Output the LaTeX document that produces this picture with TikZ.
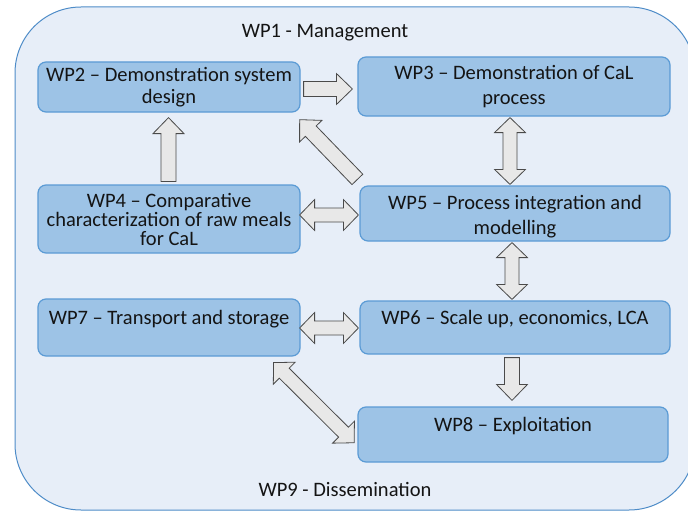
\documentclass[tikz,border=0pt]{standalone}
\usepackage{fontspec}
\setmainfont{Carlito}
\usetikzlibrary{calc}
\definecolor{outerfill}{HTML}{E7EEF8}
\definecolor{outerline}{HTML}{4E8CC8}
\definecolor{boxfill}{HTML}{9DC3E6}
\definecolor{boxline}{HTML}{5B9BD5}
\definecolor{arrfill}{HTML}{E8E8E8}
\definecolor{arrline}{HTML}{4A4A4A}
\definecolor{txt}{HTML}{141414}
\tikzset{
  frame/.style={draw=outerline, fill=outerfill, line width=1pt, rounded corners=66pt},
  wpbox/.style={draw=boxline, fill=boxfill, line width=1.2pt, rounded corners=8pt,
    align=center, text=txt, inner sep=0pt},
  title/.style={text=txt, inner sep=0pt, anchor=base},
  blk/.style={draw=arrline, fill=arrfill, line width=0.8pt, line join=miter}
}
\newcommand\sarrow[2]{%
  \draw[blk] let \p1=(#1), \p2=(#2), \n1={atan2(\y2-\y1,\x2-\x1)}, \n2={veclen(\x2-\x1,\y2-\y1)} in
   [shift={(\p1)}, rotate=\n1]
   (0pt,-7.5pt) -- (\n2-16pt,-7.5pt) -- (\n2-16pt,-15.5pt) -- (\n2,0pt) --
   (\n2-16pt,15.5pt) -- (\n2-16pt,7.5pt) -- (0pt,7.5pt) -- cycle;}
\newcommand\darrow[2]{%
  \draw[blk] let \p1=(#1), \p2=(#2), \n1={atan2(\y2-\y1,\x2-\x1)}, \n2={veclen(\x2-\x1,\y2-\y1)} in
   [shift={(\p1)}, rotate=\n1]
   (0pt,0pt) -- (15pt,15.5pt) -- (15pt,7pt) -- (\n2-15pt,7pt) -- (\n2-15pt,15.5pt) --
   (\n2,0pt) -- (\n2-15pt,-15.5pt) -- (\n2-15pt,-7pt) -- (15pt,-7pt) -- (15pt,-15.5pt) -- cycle;}
\begin{document}
\begin{tikzpicture}[x=1pt, y=-1pt, font=\fontsize{20.5pt}{21pt}\selectfont]
\useasboundingbox (0,0) rectangle (688,511);
\node[frame, minimum width=680pt, minimum height=503pt] (outer) at (355,258.5) {};
\node[title] (wp1) at (325,38) {WP1 - Management};
\node[title] (wp9) at (345,496) {WP9 - Dissemination};

\node[wpbox, minimum width=262pt, minimum height=50pt] (wp2) at (169,87)
  {WP2 – Demonstration system\\[1pt]design};
\node[wpbox, minimum width=312pt, minimum height=59pt] (wp3) at (514,86.5)
  {WP3 – Demonstration of CaL\\[4pt]process};
\node[wpbox, minimum width=262pt, minimum height=68pt] (wp4) at (169,219)
  {WP4 – Comparative\\[-2pt]characterization of raw meals\\[-2pt]for CaL};
\node[wpbox, minimum width=310pt, minimum height=55pt] (wp5) at (515,213.5)
  {\rule{0pt}{21pt}WP5 – Process integration and\\[4pt]modelling};
\node[wpbox, minimum width=262pt, minimum height=57pt] (wp7) at (169,327.5)
  {WP7 – Transport and storage\\\mbox{}};
\node[wpbox, minimum width=310pt, minimum height=53pt] (wp6) at (515,327.5)
  {WP6 – Scale up, economics, LCA\\\mbox{}};
\node[wpbox, minimum width=310pt, minimum height=55pt] (wp8) at (513,434.5)
  {WP8 – Exploitation\\\mbox{}};

\coordinate (a1s) at ($(wp2.east)+(3,2)$);
\coordinate (a1e) at ($(wp3.west)+(-5,2.5)$);
\coordinate (a2s) at ($(wp4.north)+(-0.5,-3)$);
\coordinate (a2e) at ($(wp2.south)+(-0.5,5)$);
\coordinate (a3s) at ($(wp3.south)+(-4,1)$);
\coordinate (a3e) at ($(wp5.north)+(-5,-1)$);
\coordinate (a4s) at ($(wp4.east)+(-1,-4)$);
\coordinate (a4e) at ($(wp5.west)+(-1,1.5)$);
\coordinate (a5s) at ($(wp5.south)+(-3,1)$);
\coordinate (a5e) at ($(wp6.north)+(-3,-1)$);
\coordinate (a6s) at ($(wp7.east)+(-1,0.5)$);
\coordinate (a6e) at ($(wp6.west)+(-1,0.5)$);
\coordinate (a7s) at ($(wp6.south)+(-3,3)$);
\coordinate (a7e) at ($(wp8.north)+(-1,-6)$);
\coordinate (a8s) at ($(wp5.north west)+(-2,-6)$);
\coordinate (a8e) at ($(wp2.south east)+(-1,7)$);
\coordinate (a9s) at ($(wp7.south east)+(-27,6)$);
\coordinate (a9e) at ($(wp8.west)+(-3,8.5)$);

\sarrow{a1s}{a1e}
\sarrow{a2s}{a2e}
\darrow{a3s}{a3e}
\darrow{a4s}{a4e}
\darrow{a5s}{a5e}
\darrow{a6s}{a6e}
\sarrow{a7s}{a7e}
\sarrow{a8s}{a8e}
\darrow{a9s}{a9e}
\end{tikzpicture}
\end{document}
